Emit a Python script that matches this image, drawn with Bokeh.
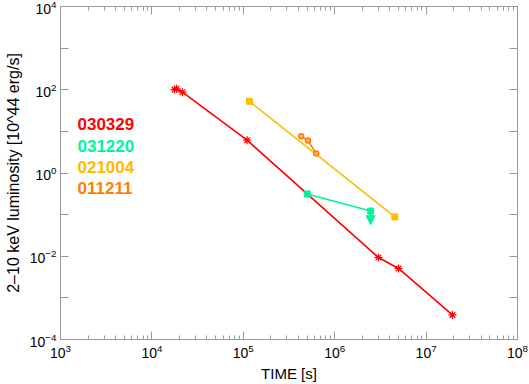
from bokeh.plotting import figure
from bokeh.models import Range1d, LogAxis, FixedTicker, Label, Arrow, NormalHead, CustomJSTickFormatter
from bokeh.embed import file_html
from bokeh.resources import INLINE

# GRB 030329
r_t = [1.77e4, 1.86e4, 2.16e4, 1.10e5, 3.01e6, 4.99e6, 1.94e7]
r_L = [101.0, 105.0, 87.5, 6.14, 9.3e-3, 5.1e-3, 3.9e-4]
# GRB 031220 (last point is an upper limit)
g_t = [5.0e5, 2.47e6]
g_L = [0.314, 0.122]
# GRB 021004
y_t = [1.17e5, 4.55e6]
y_L = [52.6, 0.088]
# GRB 011211
o_t = [4.30e5, 5.10e5, 6.28e5]
o_L = [7.64, 6.01, 2.95]

grb_names = ["030329", "031220", "021004", "011211"]
grb_colors = ["#FF0000", "#00F59A", "#FFBB00", "#FF8000"]

x_major = [1e3, 1e4, 1e5, 1e6, 1e7, 1e8]
x_minor = [k * d for d in [1e3, 1e4, 1e5, 1e6, 1e7] for k in range(2, 10)]
y_major = [1e-4, 1e-2, 1e0, 1e2, 1e4]
y_minor = [1e-3, 1e-1, 1e1, 1e3]

axis_gray = "#9a9a9a"

p = figure(width=529, height=384, x_axis_type="log", y_axis_type="log",
           x_range=Range1d(1e3, 1e8), y_range=Range1d(1e-4, 1e4),
           output_backend="svg", toolbar_location=None,
           min_border_left=60, min_border_right=12, min_border_top=6, min_border_bottom=43,
           x_axis_label="TIME [s]", y_axis_label="2\u201310 keV luminosity [10^44 erg/s]")
p.styles = {"position": "absolute", "left": "0px", "top": "0px"}
p.xgrid.visible = False
p.ygrid.visible = False
p.outline_line_color = axis_gray
p.background_fill_color = "white"
p.border_fill_color = "white"

def style_axis(ax, major, minor, minor_len, show_labels):
    ax.ticker = FixedTicker(ticks=major, minor_ticks=minor)
    ax.axis_line_color = axis_gray
    ax.major_tick_line_color = axis_gray
    ax.minor_tick_line_color = axis_gray
    ax.major_tick_in = 8
    ax.major_tick_out = 0
    ax.minor_tick_in = minor_len
    ax.minor_tick_out = 0
    ax.major_label_text_font = "Liberation Sans"
    ax.major_label_text_font_size = "14px"
    ax.major_label_text_color = "black"
    ax.major_label_standoff = 4
    ax.axis_label_text_font = "Liberation Sans"
    ax.axis_label_text_font_size = "16px"
    ax.axis_label_text_font_style = "normal"
    ax.axis_label_text_color = "black"
    if not show_labels:
        ax.formatter = CustomJSTickFormatter(code="return ''")
        ax.major_label_text_font_size = "0px"

style_axis(p.xaxis[0], x_major, x_minor, 4, True)
style_axis(p.yaxis[0], y_major, y_minor, 8, True)
p.xaxis[0].axis_label_text_font_size = "15px"
p.xaxis[0].axis_label_standoff = 4
p.yaxis[0].axis_label_standoff = 5

top_ax = LogAxis()
style_axis(top_ax, x_major, x_minor, 4, False)
p.add_layout(top_ax, "above")
right_ax = LogAxis()
style_axis(right_ax, y_major, y_minor, 8, False)
p.add_layout(right_ax, "right")

lw = 1.6
# 030329
p.line(r_t, r_L, color=grb_colors[0], line_width=lw)
p.scatter(r_t, r_L, marker="asterisk", size=8, line_color=grb_colors[0], line_width=1.2)
# 031220
p.line(g_t, g_L, color=grb_colors[1], line_width=lw)
p.scatter(g_t, g_L, marker="square", size=6, line_color=grb_colors[1], fill_color=grb_colors[1])
p.add_layout(Arrow(end=NormalHead(size=9, line_color=grb_colors[1], fill_color=grb_colors[1]),
                   x_start=g_t[-1], y_start=g_L[-1], x_end=g_t[-1], y_end=g_L[-1] * 0.47,
                   line_color=grb_colors[1], line_width=2.5))
# 021004
p.line(y_t, y_L, color=grb_colors[2], line_width=lw)
p.scatter(y_t, y_L, marker="square", size=6, line_color=grb_colors[2], fill_color=grb_colors[2])
# 011211
p.line(o_t, o_L, color=grb_colors[3], line_width=lw)
p.scatter(o_t, o_L, marker="circle", size=5, line_color=grb_colors[3], fill_color="#FFB060", line_width=1.5)

# text legend
label_y = [216, 194, 173, 152]
for name, col, yy in zip(grb_names, grb_colors, label_y):
    p.add_layout(Label(x=17, y=yy, x_units="screen", y_units="screen", text=name,
                       text_color=col, text_font="Liberation Sans", text_font_style="bold",
                       text_font_size="17px", text_baseline="middle"))

open("out.html", "w").write(file_html(p, INLINE))
